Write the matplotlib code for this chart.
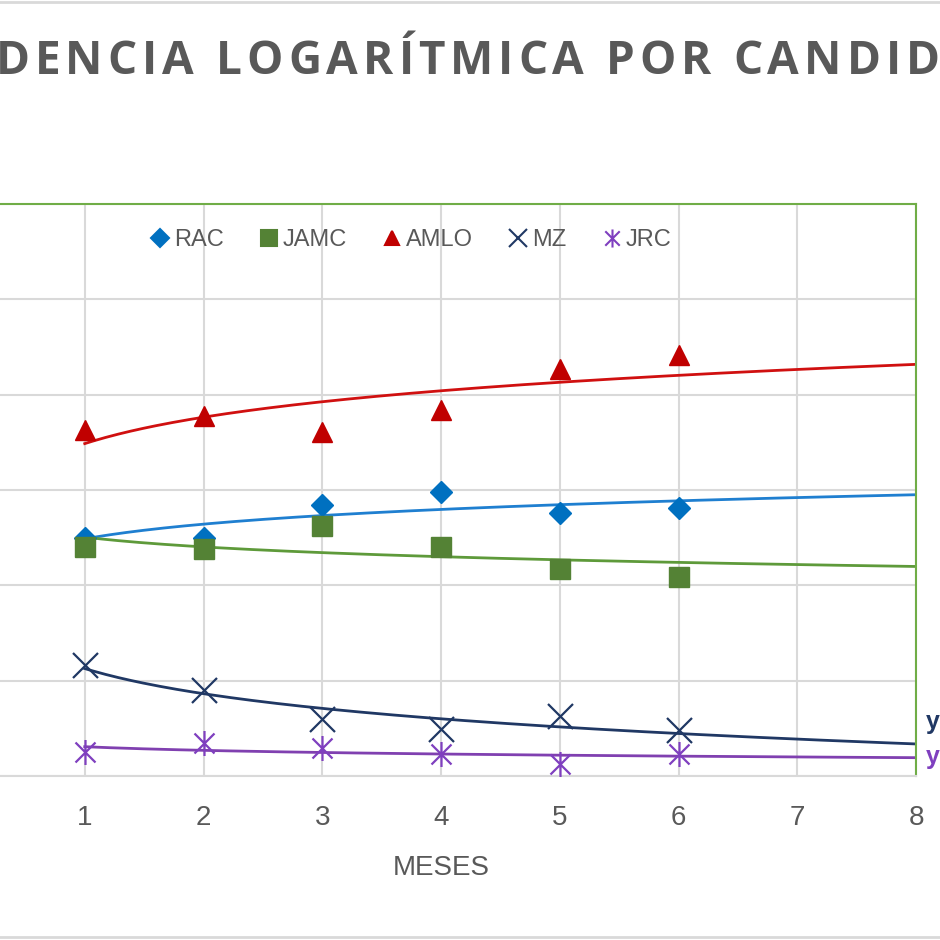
import numpy as np
import matplotlib.pyplot as plt
from matplotlib.lines import Line2D
from matplotlib.path import Path

# Encuestas por mes
meses = [1, 2, 3, 4, 5, 6]
rac = [25.0, 25.0, 28.4, 29.8, 27.6, 28.1]
jamc = [24.0, 23.8, 26.2, 24.0, 21.7, 20.9]
amlo = [36.3, 37.8, 36.1, 38.4, 42.7, 44.2]
mz = [11.6, 9.0, 6.0, 4.9, 6.3, 4.8]
jrc = [2.5, 3.5, 2.9, 2.3, 1.3, 2.3]
candidatos = ['RAC', 'JAMC', 'AMLO', 'MZ', 'JRC']
x_ticks = [1, 2, 3, 4, 5, 6, 7, 8]
y_ticks = [0, 10, 20, 30, 40, 50, 60]

TITLE = 'TENDENCIA LOGARÍTMICA POR CANDIDATO'
GRAY = '#595959'
plt.rcParams['font.family'] = ['Liberation Sans Narrow', 'Liberation Sans', 'DejaVu Sans']

# asterisco estilo Excel: vertical + x
star = Path([(0, -1), (0, 1), (-0.8, -0.8), (0.8, 0.8), (-0.8, 0.8), (0.8, -0.8)],
            [Path.MOVETO, Path.LINETO, Path.MOVETO, Path.LINETO, Path.MOVETO, Path.LINETO])

series = [
    (rac, '#0070C0', '#1F7FD0', 'D', 11, 9, 'full'),
    (jamc, '#548235', '#5E9A3A', 's', 14, 12, 'full'),
    (amlo, '#C00000', '#D01010', '^', 15, 10, 'full'),
    (mz, '#203864', '#203864', 'x', 18, 13, 'none'),
    (jrc, '#7F3FBF', '#8040B0', star, 18, 13, 'none'),
]

fig = plt.figure(figsize=(9.4, 9.4), dpi=100)
ax = fig.add_axes([-34.0 / 940, 1 - 776 / 940, 950.0 / 940, 572.0 / 940])

xs = np.linspace(1, 8, 200)
fits = []
for vals, mcol, lcol, mk, ms, lms, fill in series:
    a, b = np.polyfit(np.log(meses), vals, 1)
    fits.append((a, b))
    ax.plot(xs, a * np.log(xs) + b, color=lcol, lw=2, zorder=2)
    if mk == 'x' or mk is star:
        ax.plot(meses, vals, ls='none', marker=mk, ms=ms, mew=1.6, color=mcol, zorder=3)
    else:
        ax.plot(meses, vals, ls='none', marker=mk, ms=ms, color=mcol, mec=mcol, zorder=3)

ax.set_xlim(0, 8)
ax.set_ylim(0, 60)
ax.set_xticks(x_ticks)
ax.set_yticks(y_ticks)
ax.grid(True, color='#D9D9D9', lw=1.5)
ax.set_axisbelow(True)
ax.tick_params(length=0, labelsize=20, labelcolor=GRAY, pad=21)
ax.tick_params(axis='y', labelleft=False)
for s in ('top', 'right', 'left'):
    ax.spines[s].set_color('#70AD47')
    ax.spines[s].set_linewidth(1.5)
ax.spines['bottom'].set_color('#D9D9D9')
ax.spines['bottom'].set_linewidth(1.5)
ax.set_xlabel('MESES', fontsize=20, color=GRAY, labelpad=17)

handles = []
for (vals, mcol, lcol, mk, ms, lms, fill), name in zip(series, candidatos):
    handles.append(Line2D([], [], ls='none', marker=mk, ms=lms, color=mcol,
                          mew=1.5, label=name))
ax.legend(handles=handles, loc='center', bbox_to_anchor=(0.466, 0.937), ncol=5,
          frameon=False, fontsize=17, labelcolor=GRAY, handletextpad=0.0,
          columnspacing=1.3, handlelength=1.2)

# etiquetas de las ecuaciones (cortadas por el borde)
for (a, b), col, ypx in [(fits[3], '#203864', 722), (fits[4], '#7F3FBF', 757)]:
    fig.text(926 / 940, 1 - ypx / 940, f'y = {a:.3f}ln(x) + {b:.3f}', color=col,
             fontsize=18, fontweight='bold', va='center', ha='left')

# titulo con espaciado de letras
props = dict(fontsize=33, fontweight='bold', color=GRAY, family=['Open Sans', 'DejaVu Sans'])
fig.canvas.draw()
r = fig.canvas.get_renderer()


def width(s):
    t = fig.text(0, 0, s, **props)
    w = t.get_window_extent(r).width
    t.remove()
    return w


space_w = width('I I') - width('II')
ws = [space_w if c == ' ' else width(c) for c in TITLE]
track = 5.0
total = sum(ws) + track * (len(TITLE) - 1)
x0 = 470 - total / 2
for c, w in zip(TITLE, ws):
    fig.text(x0 / 940, 1 - 61 / 940, c, ha='left', va='center', **props)
    x0 += w + track

# borde del area del grafico
fig.add_artist(Line2D([0, 1], [1 - 1.5 / 940, 1 - 1.5 / 940], color='#D9D9D9', lw=2))
fig.add_artist(Line2D([0, 1], [1 - 937 / 940, 1 - 937 / 940], color='#D9D9D9', lw=2))

fig.savefig('out.png', dpi=100)
